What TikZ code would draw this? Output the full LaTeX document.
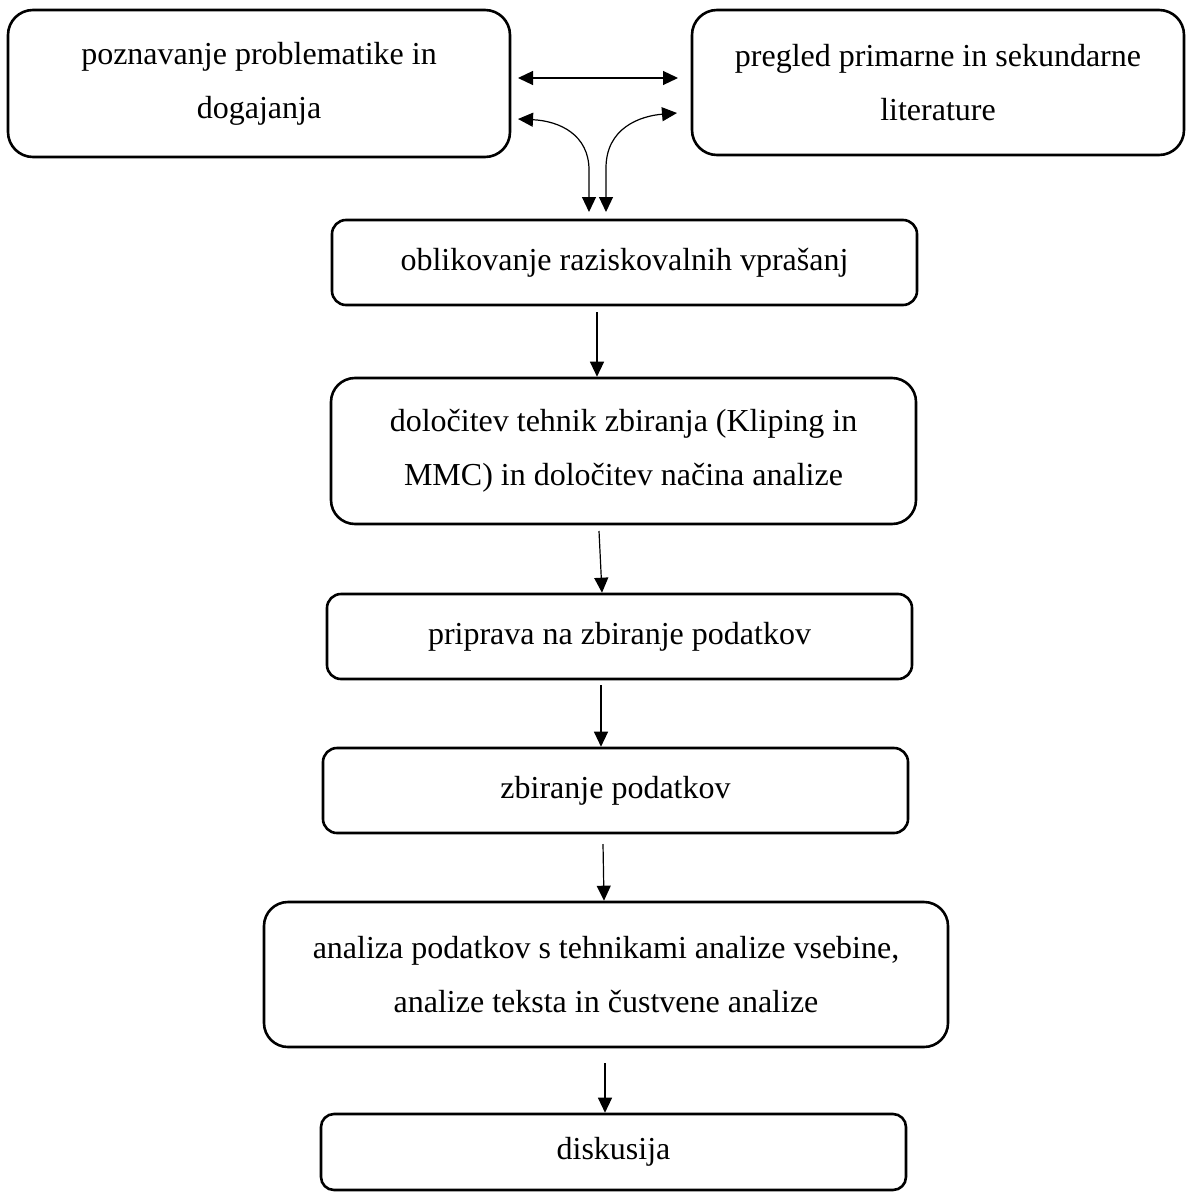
\documentclass[tikz,border=0pt]{standalone}
\usepackage{fontspec}
\setmainfont{Liberation Serif}
\usetikzlibrary{arrows.meta}
\begin{document}
\begin{tikzpicture}[x=1pt,y=-1pt,
  box/.style={draw=black, line width=2.6pt, align=center, inner sep=0pt,
    font=\fontsize{32}{54}\selectfont},
  arr/.style={line width=1.2pt, -{Triangle[length=15pt,width=14pt]}},
  darr/.style={line width=1.2pt, {Triangle[length=15pt,width=14pt]}-{Triangle[length=15pt,width=14pt]}}]
\useasboundingbox (0,0) rectangle (1187,1193);

\node[box, minimum width=502pt, minimum height=147pt, rounded corners=25pt] (b1) at (259,83.5)
  {poznavanje problematike in\\dogajanja};
\node[box, minimum width=492pt, minimum height=145pt, rounded corners=25pt] (b2) at (938,82.5)
  {pregled primarne in sekundarne\\literature};
\node[box, minimum width=585pt, minimum height=85pt, rounded corners=14pt] (b3) at (624.5,262.5)
  {oblikovanje raziskovalnih vprašanj};
\node[box, minimum width=585pt, minimum height=146pt, rounded corners=24pt] (b4) at (623.5,451)
  {določitev tehnik zbiranja (Kliping in\\MMC) in določitev načina analize};
\node[box, minimum width=585pt, minimum height=85pt, rounded corners=14pt] (b5) at (619.5,636.5)
  {priprava na zbiranje podatkov};
\node[box, minimum width=585pt, minimum height=85pt, rounded corners=14pt] (b6) at (615.5,790.5)
  {zbiranje podatkov};
\node[box, minimum width=684pt, minimum height=145pt, rounded corners=24pt] (b7) at (606,974.5)
  {analiza podatkov s tehnikami analize vsebine,\\analize teksta in čustvene analize};
\node[box, minimum width=585pt, minimum height=76pt, rounded corners=13pt] (b8) at (613.5,1152)
  {diskusija};

% top connectors
\coordinate (h1) at (518,78);
\coordinate (h2) at (678,78);
\draw[darr] (h1) -- (h2);

\coordinate (cl) at (518,119);
\coordinate (cr) at (677,113);
\coordinate (el) at (589,212);
\coordinate (er) at (606,212);
\draw[darr] (cl) .. controls (560,121) and (589,135) .. (589,170) -- (el);
\draw[darr] (cr) .. controls (640,116) and (606,128) .. (606,168) -- (er);

% vertical connectors
\coordinate (s34) at (597,312);
\draw[arr] (s34) -- (s34 |- b4.north);
\coordinate (s45) at (599,531);
\coordinate (e45) at (602,0);
\draw[arr] (s45) -- (e45 |- b5.north);
\coordinate (s56) at (601,685);
\draw[arr] (s56) -- (s56 |- b6.north);
\coordinate (s67) at (603,844);
\coordinate (e67) at (604,0);
\draw[arr] (s67) -- (e67 |- b7.north);
\coordinate (s78) at (605,1063);
\draw[arr] (s78) -- (s78 |- b8.north);
\end{tikzpicture}
\end{document}
